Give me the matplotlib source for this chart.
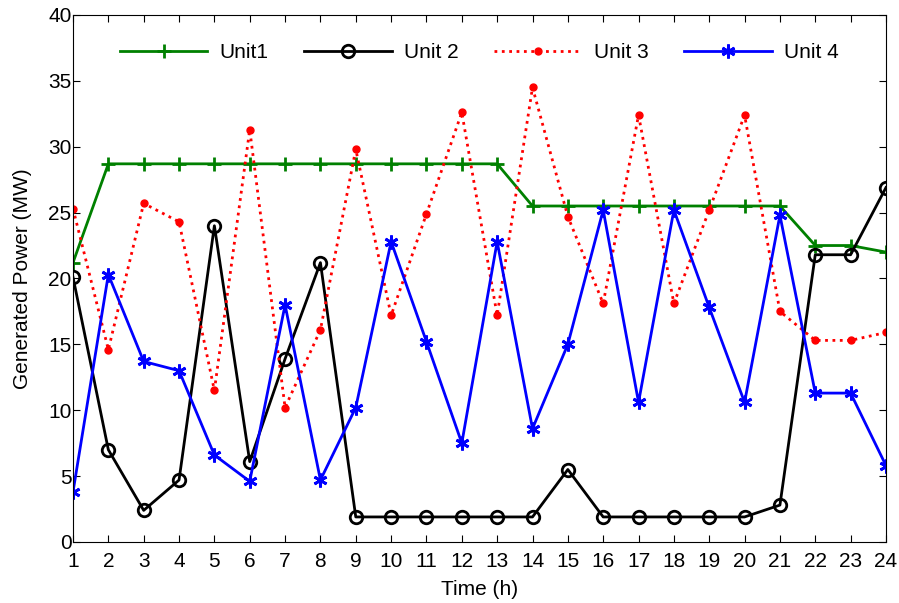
import matplotlib
matplotlib.use("Agg")
import matplotlib.pyplot as plt
from matplotlib.ticker import MultipleLocator

plt.rcParams['font.family'] = ['Liberation Sans', 'DejaVu Sans']

hours = list(range(1, 25))
unit1 = [21.2] + [28.7] * 12 + [25.5] * 8 + [22.5, 22.5, 22.0]
unit2 = [20.1, 7.0, 2.4, 4.7, 24.0, 6.1, 13.9, 21.2, 1.9, 1.9, 1.9, 1.9, 1.9, 1.9,
         5.5, 1.9, 1.9, 1.9, 1.9, 1.9, 2.8, 21.8, 21.8, 26.9]
unit3 = [25.3, 14.6, 25.7, 24.3, 11.5, 31.3, 10.2, 16.1, 29.8, 17.2, 24.9, 32.6,
         17.2, 34.5, 24.7, 18.1, 32.4, 18.1, 25.2, 32.4, 17.5, 15.3, 15.3, 15.9]
unit4 = [3.8, 20.3, 13.7, 13.0, 6.6, 4.6, 18.0, 4.7, 10.2, 22.8, 15.2, 7.5,
         22.8, 8.6, 15.0, 25.2, 10.6, 25.2, 17.8, 10.6, 24.8, 11.3, 11.3, 5.8]
labels = ['Unit1', 'Unit 2', 'Unit 3', 'Unit 4']

fig = plt.figure(figsize=(8.99, 6.03), dpi=100)
ax = fig.add_axes([0.0812, 0.1012, 0.9043, 0.874])

ax.plot(hours, unit1, color='#008000', lw=2, marker='+', ms=10, mew=2, label=labels[0])
ax.plot(hours, unit2, color='black', lw=2, marker='o', ms=9, mfc='none', mew=2, label=labels[1])
ax.plot(hours, unit3, color='red', lw=2, ls=':', marker='.', ms=10, label=labels[2])
ax.plot(hours, unit4, color='blue', lw=2, marker=(6, 2, 0), ms=10, mew=2, label=labels[3])

ax.set_xlim(1, 24)
ax.set_ylim(0, 40)
ax.set_xticks(hours)
ax.yaxis.set_major_locator(MultipleLocator(5))
ax.tick_params(direction='in', top=True, right=True, labelsize=15, length=5)
ax.tick_params(axis='x', pad=7)
ax.tick_params(axis='y', pad=1)
ax.set_xlabel('Time (h)', fontsize=15, labelpad=7)
ax.set_ylabel('Generated Power (MW)', fontsize=15, labelpad=12)

ax.legend(loc='center', bbox_to_anchor=(0.5, 0.928), ncol=4, frameon=False,
          fontsize=15, handlelength=4.2, columnspacing=1.7, handletextpad=0.6)

fig.savefig('out.png', dpi=100)
